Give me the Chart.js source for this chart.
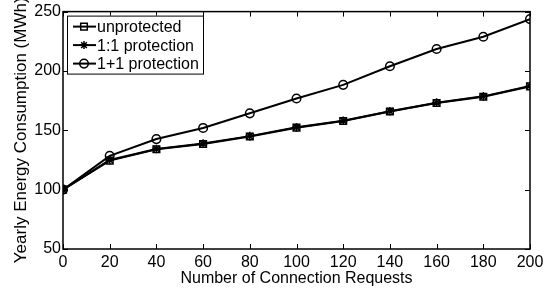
<!DOCTYPE html>
<html>
<head>
<meta charset="utf-8">
<script src="https://cdn.jsdelivr.net/npm/chart.js@4/dist/chart.umd.min.js"></script>
<style>
html, body { margin: 0; padding: 0; background: #fff; }
#wrap { width: 555px; height: 291px; }
</style>
</head>
<body>
<div id="wrap"><canvas id="energyChart"></canvas></div>
<script>
// values
var requests = [0, 20, 40, 60, 80, 100, 120, 140, 160, 180, 200];
var unprotected = [100, 124.5, 134, 138.5, 144.8, 152.2, 157.8, 165.8, 173, 178.3, 187];
var oneToOne = [100, 125, 134.3, 138.8, 145.1, 152.5, 158.1, 166.1, 173.3, 178.6, 187.3];
var onePlusOne = [100, 128.5, 142.6, 152, 164.3, 176.8, 188.3, 204, 218.5, 228.8, 243.7];
var xTicks = [0, 20, 40, 60, 80, 100, 120, 140, 160, 180, 200];
var yTicks = [50, 100, 150, 200, 250];
var seriesNames = ['unprotected', '1:1 protection', '1+1 protection'];

var FONT = 'Liberation Sans, Arial, Helvetica, sans-serif';
var FSIZE = 16;

function toPoints(values) {
    return requests.map(function(r, i) { return { x: r, y: values[i] }; });
}

function marker(ctx, style, x, y) {
    ctx.beginPath();
    if (style === 'rect') {
        ctx.rect(x - 3.3, y - 3.3, 6.6, 6.6);
    } else if (style === 'circle') {
        ctx.arc(x, y, 4.3, 0, Math.PI * 2);
    } else {
        for (var k = 0; k < 4; k++) {
            var a = k * Math.PI / 4;
            ctx.moveTo(x - 4 * Math.cos(a), y - 4 * Math.sin(a));
            ctx.lineTo(x + 4 * Math.cos(a), y + 4 * Math.sin(a));
        }
    }
    ctx.stroke();
}

var frameAndLegend = {
    id: 'frameAndLegend',
    afterDraw: function(chart) {
        var ctx = chart.ctx;
        var a = chart.chartArea;
        var xs = chart.scales.x, ys = chart.scales.y;
        ctx.save();
        ctx.strokeStyle = '#000';
        ctx.lineWidth = 1.5;
        ctx.strokeRect(a.left, a.top, a.right - a.left, a.bottom - a.top);
        ctx.lineWidth = 1;
        ctx.beginPath();
        xTicks.forEach(function(v) {
            var px = Math.round(xs.getPixelForValue(v)) + 0.5;
            ctx.moveTo(px, a.bottom); ctx.lineTo(px, a.bottom - 5);
            ctx.moveTo(px, a.top); ctx.lineTo(px, a.top + 5);
        });
        yTicks.forEach(function(v) {
            var py = Math.round(ys.getPixelForValue(v)) + 0.5;
            ctx.moveTo(a.left, py); ctx.lineTo(a.left + 5, py);
            ctx.moveTo(a.right, py); ctx.lineTo(a.right - 5, py);
        });
        ctx.stroke();

        // legend box
        var lx = a.left + 4, ly = a.top + 4, lw = 136, lh = 58;
        ctx.fillStyle = '#fff';
        ctx.fillRect(lx, ly, lw, lh);
        ctx.lineWidth = 1;
        ctx.strokeRect(lx + 0.5, ly + 0.5, lw, lh);
        ctx.font = FSIZE + 'px ' + FONT;
        ctx.textBaseline = 'middle';
        ctx.fillStyle = '#000';
        chart.data.datasets.forEach(function(ds, i) {
            var yy = ly + 11 + i * 18.5;
            ctx.lineWidth = 2;
            ctx.beginPath();
            ctx.moveTo(lx + 6, yy); ctx.lineTo(lx + 29, yy);
            ctx.stroke();
            ctx.lineWidth = 1.5;
            marker(ctx, ds.pointStyle, lx + 17, yy);
            ctx.fillText(ds.label, lx + 30, yy + 1);
        });
        ctx.restore();
    }
};

var styles = ['rect', 'star', 'circle'];
var seriesValues = [unprotected, oneToOne, onePlusOne];

var datasets = seriesValues.map(function(vals, i) {
    return {
        label: seriesNames[i],
        data: toPoints(vals),
        borderColor: '#000',
        backgroundColor: 'rgba(0,0,0,0)',
        borderWidth: 2,
        pointStyle: styles[i],
        pointRadius: i === 0 ? 4.7 : 4.3,
        pointBorderColor: '#000',
        pointBorderWidth: 1.5,
        pointBackgroundColor: 'rgba(0,0,0,0)',
        tension: 0
    };
});

new Chart(document.getElementById('energyChart').getContext('2d'), {
    type: 'line',
    data: { datasets: datasets },
    options: {
        responsive: true,
        maintainAspectRatio: false,
        animation: false,
        layout: { padding: { top: 7, right: 25, left: 0, bottom: 0 } },
        plugins: { legend: { display: false }, tooltip: { enabled: false } },
        scales: {
            x: {
                type: 'linear',
                min: 0, max: 200,
                afterFit: function(s) { s.height = 42; },
                afterBuildTicks: function(s) { s.ticks = xTicks.map(function(v) { return { value: v }; }); },
                grid: { display: false, drawTicks: false },
                border: { display: false },
                ticks: { color: '#000', padding: 4, maxRotation: 0, font: { family: FONT, size: FSIZE } },
                title: { display: true, text: 'Number of Connection Requests', color: '#000', padding: { top: 0, bottom: 3 }, font: { family: FONT, size: FSIZE } }
            },
            y: {
                min: 50, max: 250,
                afterFit: function(s) { s.width = 63; },
                afterBuildTicks: function(s) { s.ticks = yTicks.map(function(v) { return { value: v }; }); },
                grid: { display: false, drawTicks: false },
                border: { display: false },
                ticks: { color: '#000', padding: 2, font: { family: FONT, size: FSIZE } },
                title: { display: true, text: 'Yearly Energy Consumption (MWh)', color: '#000', padding: { top: 11, bottom: 0 }, font: { family: FONT, size: 17 } }
            }
        }
    },
    plugins: [frameAndLegend]
});
</script>
</body>
</html>
